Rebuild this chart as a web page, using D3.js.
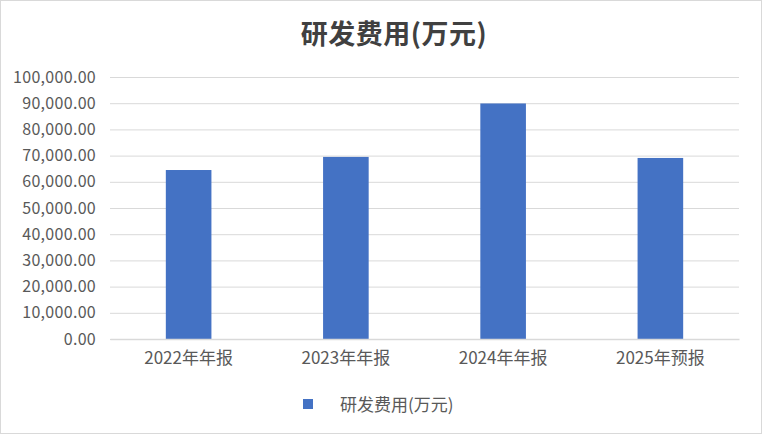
<!DOCTYPE html>
<html><head><meta charset="utf-8">
<script src="https://cdn.jsdelivr.net/npm/d3@7"></script>
<style>
html,body{margin:0;padding:0;background:#fff;}
svg{display:block;}
</style></head>
<body>
<svg id="chart" width="762" height="434"></svg>
<script>
const categories = ["2022年年报", "2023年年报", "2024年年报", "2025年预报"];
const values = [64500, 69500, 89900, 69100];
const yTicks = [0, 10000, 20000, 30000, 40000, 50000, 60000, 70000, 80000, 90000, 100000];
const seriesName = "研发费用(万元)";
const title = "研发费用(万元)";

const W = 762, H = 434;
const m = {left: 110, right: 23, top: 77, bottom: 95};
const svg = d3.select("#chart");
const font = "'Noto Sans CJK SC', 'Noto Sans', sans-serif";

svg.append("rect").attr("x", 0.5).attr("y", 0.5).attr("width", W - 1).attr("height", H - 1)
  .attr("fill", "#fff").attr("stroke", "#d9d9d9").attr("stroke-width", 1);

const x = d3.scaleBand().domain(categories).range([m.left, W - m.right]).paddingInner(0.71).paddingOuter(0.355);
const y = d3.scaleLinear().domain([0, 100000]).range([H - m.bottom, m.top]);

// gridlines
const yAxis = d3.axisLeft(y).tickValues(yTicks).tickSize(-(W - m.left - m.right)).tickPadding(14)
  .tickFormat(d => d3.format(",.2f")(d));
const gy = svg.append("g").attr("transform", `translate(${m.left},0)`).call(yAxis);
gy.select(".domain").remove();
gy.selectAll(".tick line").attr("stroke", "#d9d9d9").attr("stroke-width", 1);
gy.selectAll(".tick text").attr("fill", "#595959").style("font-family", font).style("font-size", "16px")
  .style("letter-spacing", "0.3px");

// bars
svg.append("g").selectAll("rect").data(values).join("rect")
  .attr("x", (d, i) => x(categories[i]))
  .attr("width", x.bandwidth())
  .attr("y", d => y(d))
  .attr("height", d => y(0) - y(d))
  .attr("fill", "#4472c4");

// x axis
const xAxis = d3.axisBottom(x).tickSize(0).tickPadding(13);
const gx = svg.append("g").attr("transform", `translate(0,${y(0)})`).call(xAxis);
gx.select(".domain").attr("stroke", "#d9d9d9").attr("stroke-width", 1.5);
gx.selectAll(".tick text").attr("fill", "#595959").style("font-family", font).style("font-size", "17px");

// title
svg.append("text").attr("x", 394).attr("y", 44).attr("text-anchor", "middle")
  .attr("fill", "#404040").style("font-family", font).style("font-size", "27px").style("font-weight", "bold")
  .style("letter-spacing", "0.5px")
  .text(title);

// legend
const lg = svg.append("g").attr("transform", "translate(303,399)");
lg.append("rect").attr("width", 10).attr("height", 10).attr("fill", "#4472c4");
lg.append("text").attr("x", 37).attr("y", 11.5).attr("fill", "#595959")
  .style("font-family", font).style("font-size", "17px").text(seriesName);
</script>
</body></html>
